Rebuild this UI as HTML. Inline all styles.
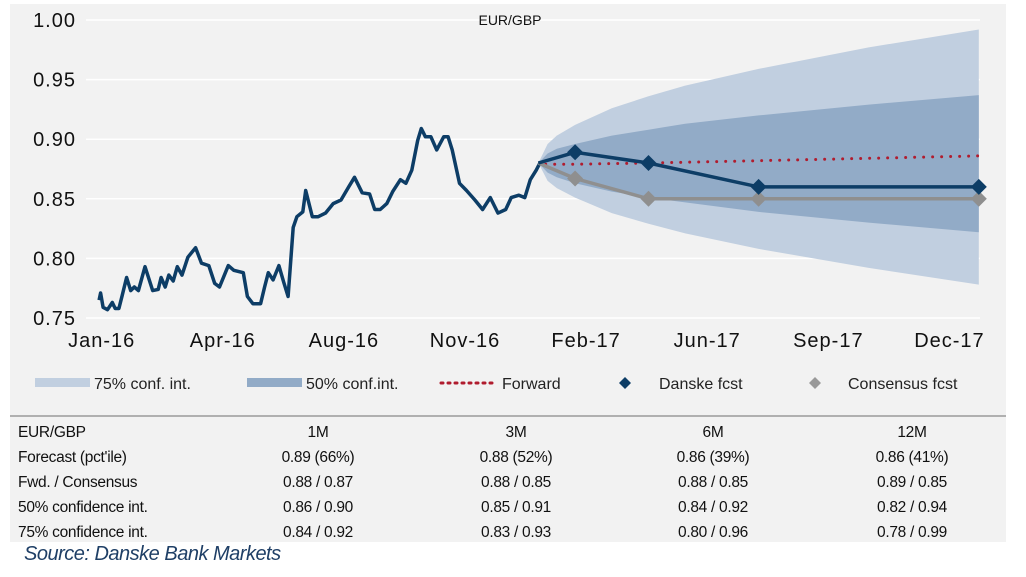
<!DOCTYPE html>
<html><head><meta charset="utf-8"><style>
body{margin:0;background:#fff;width:1026px;height:572px;overflow:hidden;font-family:"Liberation Sans",sans-serif;}
</style></head><body>
<svg width="1026" height="572" xmlns="http://www.w3.org/2000/svg">
<rect x="10" y="4" width="996" height="538" fill="#f2f2f2"/>
<g id="grid"></g>
<g id="bands"></g>
<g id="series"></g>
<g id="axes"></g>
<text x="510" y="25" font-size="14" text-anchor="middle" fill="#111">EUR/GBP</text>
<g font-size="16" fill="#222">
<rect x="35" y="378" width="55" height="9" fill="#c1cfe0"/>
<text x="94" y="389">75% conf. int.</text>
<rect x="247" y="378" width="55" height="9" fill="#92abc7"/>
<text x="306" y="389">50% conf.int.</text>
<line x1="441" y1="383" x2="495" y2="383" stroke="#b01c2e" stroke-width="3" stroke-dasharray="2 5" stroke-linecap="round"/>
<text x="502" y="389">Forward</text>
<path d="M625 377 L631 383 L625 389 L619 383Z" fill="#0d3d66"/>
<text x="659" y="389">Danske fcst</text>
<path d="M815 377 L821 383 L815 389 L809 383Z" fill="#999"/>
<text x="848" y="389">Consensus fcst</text>
</g>
<line x1="10" y1="416" x2="1006" y2="416" stroke="#999" stroke-width="1.5"/>
<g id="table" font-size="15.5" fill="#111" letter-spacing="-0.3"></g>
<text x="24" y="560" font-size="20" font-style="italic" fill="#1f3f66" letter-spacing="-0.5">Source: Danske Bank Markets</text>
</svg>
<script>
const yTicks=[0.75,0.80,0.85,0.90,0.95,1.00];
const xTickLabels=["Jan-16","Apr-16","Aug-16","Nov-16","Feb-17","Jun-17","Sep-17","Dec-17"];
const xTickMonths=[0.1,3.4,6.7,10.0,13.3,16.6,19.9,23.2];
const histT=[0.03,0.07,0.14,0.26,0.39,0.47,0.57,0.66,0.78,0.89,0.99,1.10,1.28,1.49,1.64,1.72,1.83,1.93,2.05,2.16,2.29,2.45,2.66,2.82,3.02,3.18,3.31,3.55,3.70,3.96,4.07,4.22,4.43,4.54,4.64,4.77,4.93,5.06,5.18,5.32,5.42,5.58,5.66,5.84,6.00,6.20,6.41,6.62,6.83,6.99,7.20,7.40,7.54,7.69,7.87,8.03,8.24,8.39,8.55,8.71,8.81,8.92,9.07,9.23,9.42,9.54,9.65,9.85,10.04,10.27,10.48,10.69,10.90,11.11,11.26,11.47,11.63,11.78,11.94,12.04];
const histV=[0.765,0.771,0.759,0.757,0.763,0.758,0.758,0.769,0.784,0.773,0.776,0.773,0.793,0.773,0.774,0.784,0.776,0.786,0.781,0.793,0.786,0.801,0.809,0.796,0.794,0.779,0.776,0.794,0.790,0.788,0.768,0.762,0.762,0.776,0.788,0.782,0.794,0.780,0.768,0.826,0.835,0.839,0.857,0.835,0.835,0.838,0.846,0.849,0.860,0.868,0.855,0.854,0.841,0.841,0.846,0.856,0.866,0.863,0.874,0.899,0.909,0.902,0.902,0.891,0.902,0.902,0.891,0.863,0.857,0.849,0.841,0.851,0.838,0.841,0.851,0.853,0.851,0.866,0.874,0.880];
const bandT=[12,12.25,12.5,13,14,15,16,18,21,24];
const band75Hi=[0.880,0.896,0.903,0.912,0.926,0.936,0.945,0.959,0.977,0.992];
const band75Lo=[0.880,0.865,0.859,0.851,0.838,0.829,0.821,0.808,0.792,0.778];
const band50Hi=[0.880,0.888,0.892,0.896,0.903,0.908,0.913,0.920,0.929,0.937];
const band50Lo=[0.880,0.872,0.868,0.863,0.856,0.851,0.847,0.839,0.830,0.822];
const fcstT=[12,13,15,18,24];
const danskeV=[0.880,0.889,0.880,0.860,0.860];
const consensusV=[0.880,0.867,0.850,0.850,0.850];
const fwdT=[12.2,13,15,18,21,24];
const fwdV=[0.879,0.879,0.880,0.882,0.884,0.886];
const tableHead=["EUR/GBP","1M","3M","6M","12M"];
const tableRows=[["Forecast (pct'ile)","0.89 (66%)","0.88 (52%)","0.86 (39%)","0.86 (41%)"],["Fwd. / Consensus","0.88 / 0.87","0.88 / 0.85","0.88 / 0.85","0.89 / 0.85"],["50% confidence int.","0.86 / 0.90","0.85 / 0.91","0.84 / 0.92","0.82 / 0.94"],["75% confidence int.","0.84 / 0.92","0.83 / 0.93","0.80 / 0.96","0.78 / 0.99"]];

const NS="http://www.w3.org/2000/svg";
const X=t=>98+t*36.7;
const Y=v=>318-(v-0.75)*1192;
function mk(tag,attrs,parent){const e=document.createElementNS(NS,tag);for(const k in attrs)e.setAttribute(k,attrs[k]);document.getElementById(parent).appendChild(e);return e;}
const pts=(ts,vs)=>ts.map((t,i)=>X(t).toFixed(1)+","+Y(vs[i]).toFixed(1)).join(" ");

yTicks.forEach((v,i)=>{
 const l=mk("line",{x1:86,x2:980,y1:Y(v),y2:Y(v),stroke:"#fff","stroke-width":1.5},"grid");
 
 
 const t=mk("text",{x:76,y:Y(v)+7,"text-anchor":"end","font-size":20,fill:"#111","letter-spacing":"1"},"axes");
 t.textContent=v.toFixed(2);
 
 
});
xTickLabels.forEach((s,i)=>{
 const t=mk("text",{x:X(xTickMonths[i]),y:347,"text-anchor":"middle","font-size":20,fill:"#111","letter-spacing":"1"},"axes");
 t.textContent=s;
 
 
});
function band(hi,lo,fill,name){
 const p=mk("polygon",{points:pts(bandT,hi)+" "+pts(bandT.slice().reverse(),lo.slice().reverse()),fill:fill},"bands");
 
 
}
band(band75Hi,band75Lo,"#c1cfe0","band-75");
band(band50Hi,band50Lo,"#92abc7","band-50");
const h=mk("polyline",{points:pts(histT,histV),fill:"none",stroke:"#0d3d66","stroke-width":3.5,"stroke-linejoin":"round"},"series");


const f=mk("polyline",{points:pts(fwdT,fwdV),fill:"none",stroke:"#b01c2e","stroke-width":3,"stroke-dasharray":"0 9","stroke-linecap":"round"},"series");


function fc(vs,col,name){
 const l=mk("polyline",{points:pts(fcstT,vs),fill:"none",stroke:col,"stroke-width":3.5},"series");
 
 
 fcstT.forEach((t,i)=>{if(i===0)return;const x=X(t),y=Y(vs[i]);
  const m=mk("path",{d:`M${x} ${y-8}L${x+8} ${y}L${x} ${y+8}L${x-8} ${y}Z`,fill:col},"series");
  
  
 });
}
fc(consensusV,"#8f8f8f","consensus");
fc(danskeV,"#0d3d66","danske");
const colX=[18,318,516,713,912];
[tableHead].concat(tableRows).forEach((row,r)=>{
 row.forEach((c,j)=>{
  const t=mk("text",{x:colX[j],y:437+r*25,"text-anchor":j?"middle":"start"},"table");
  t.textContent=c;
  
  
 });
});
</script>
</body></html>
